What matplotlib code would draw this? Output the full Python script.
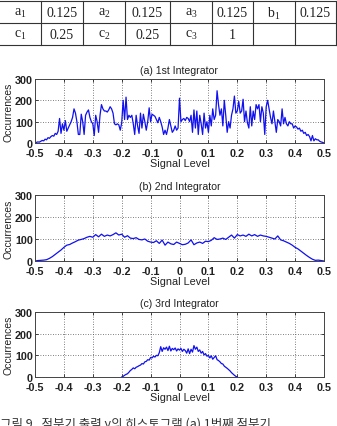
import numpy as np
import matplotlib
matplotlib.use("Agg")
import matplotlib.pyplot as plt

# ---------------- data ----------------
table_row1 = ["a_1", "0.125", "a_2", "0.125", "a_3", "0.125", "b_1", "0.125"]
table_row2 = ["c_1", "0.25", "c_2", "0.25", "c_3", "1", "", ""]

titles = ["(a) 1st Integrator", "(b) 2nd Integrator", "(c) 3rd Integrator"]
x_label = "Signal Level"
y_label = "Occurrences"
x_ticks = [-0.5, -0.4, -0.3, -0.2, -0.1, 0, 0.1, 0.2, 0.3, 0.4, 0.5]
x_tick_labels = ["-0.5", "-0.4", "-0.3", "-0.2", "-0.1", "0", "0.1", "0.2", "0.3", "0.4", "0.5"]
y_ticks = [0, 100, 200, 300]

# (a) 1st integrator, levels -0.5..0.5 step 0.005
a_range = (-0.5, 0.5)
a_counts = [0, 3, 5, 4, 8, 12, 10, 18, 15, 25, 22, 30, 35, 32, 45, 40, 55, 115, 45, 90,
            60, 105, 55, 70, 85, 100, 120, 160, 140, 100, 40, 40, 135, 100, 40, 130, 145, 155, 120, 100,
            90, 35, 130, 100, 50, 130, 180, 160, 150, 150, 145, 155, 170, 160, 140, 90, 85, 90, 85, 60,
            95, 200, 110, 215, 110, 130, 120, 130, 90, 40, 130, 80, 45, 140, 70, 135, 100, 60, 100, 165,
            100, 135, 130, 125, 110, 95, 120, 100, 75, 40, 60, 40, 70, 110, 80, 50, 60, 80, 60, 70,
            210, 100, 110, 115, 105, 120, 115, 100, 130, 50, 155, 70, 150, 40, 130, 90, 40, 140, 70, 100,
            50, 130, 80, 160, 110, 130, 245, 180, 130, 160, 80, 200, 130, 50, 100, 70, 130, 160, 220, 140,
            150, 195, 140, 150, 205, 100, 150, 95, 70, 170, 80, 150, 110, 180, 160, 180, 100, 170, 140, 40,
            170, 200, 160, 120, 90, 150, 100, 50, 110, 100, 80, 160, 90, 120, 90, 80, 100, 90, 90, 70,
            80, 75, 65, 70, 55, 60, 45, 50, 35, 40, 30, 10, 35, 10, 20, 15, 15, 8, 5, 3, 0]

# (b) 2nd integrator, levels -0.5..0.5 step 0.01
b_range = (-0.5, 0.5)
b_counts = [0, 2, 3, 4, 6, 12, 20, 30, 40, 50, 62, 72, 75, 82, 88, 95, 98, 102, 108, 112,
            108, 120, 110, 122, 112, 118, 114, 120, 128, 118, 122, 108, 115, 104, 102, 106, 98, 96, 100, 90,
            86, 84, 92, 80, 95, 72, 86, 78, 75, 86, 80, 74, 76, 82, 96, 74, 82, 86, 80, 90,
            88, 94, 106, 98, 100, 104, 98, 108, 118, 104, 120, 114, 118, 112, 122, 114, 120, 112, 118, 114,
            112, 108, 104, 100, 114, 96, 92, 86, 80, 72, 62, 55, 45, 35, 25, 16, 8, 3, 4, 2, 0]

# (c) 3rd integrator, levels -0.2..0.2 step 0.005
c_range = (-0.2, 0.2)
c_counts = [0, 3, 8, 12, 15, 22, 30, 35, 42, 38, 45, 48, 52, 55, 62, 60, 70, 72, 80, 78,
            90, 88, 96, 92, 100, 98, 112, 140, 118, 135, 128, 138, 122, 142, 120, 132, 126, 134, 120, 130,
            124, 132, 118, 128, 122, 110, 130, 108, 128, 115, 145, 128, 138, 118, 125, 110, 118, 102, 108, 96,
            100, 88, 98, 82, 90, 98, 80, 76, 70, 62, 60, 50, 45, 40, 34, 28, 20, 14, 8, 3, 0]

caption = "그림 9.  적분기 출력 y의 히스토그램 (a) 1번째 적분기"

# ---------------- figure ----------------
W, H = 337, 427
fig = plt.figure(figsize=(W / 100, H / 100), dpi=100)
plt.rcParams['mathtext.fontset'] = 'custom'
plt.rcParams['mathtext.rm'] = 'Liberation Serif'
plt.rcParams['mathtext.it'] = 'Liberation Serif'

# table
tax = fig.add_axes([0, 0, 1, 1])
tax.set_xlim(0, W)
tax.set_ylim(H, 0)
tax.axis('off')
col_edges = [0, 41, 83, 125, 170, 212, 253, 295, 336]
row_edges = [2, 24, 46]
for y in row_edges:
    tax.plot([0, W], [y, y], color='#333333', lw=0.8)
for x in col_edges[1:]:
    tax.plot([x, x], [row_edges[0], row_edges[-1]], color='#333333', lw=0.8)

def cell_text(s):
    if "_" in s:
        base, sub = s.split("_")
        return r"$\mathrm{%s}_{%s}$" % (base, sub)
    return s

for r, row in enumerate([table_row1, table_row2]):
    yc = (row_edges[r] + row_edges[r + 1]) / 2
    for c, s in enumerate(row):
        xc = (col_edges[c] + col_edges[c + 1]) / 2
        tax.text(xc, yc + 0.5, cell_text(s), ha='center', va='center',
                 family='Liberation Serif', fontsize=10, color='#222222')

tax.text(0, 418, caption, ha='left', va='top', fontsize=9,
         family=['Noto Sans CJK KR', 'DejaVu Sans'], color='#333333')

# plots
boxes = [(80, 144), (196, 262), (313, 378)]
left_px, right_px = 35, 324
series = [(a_range, a_counts), (b_range, b_counts), (c_range, c_counts)]
for (top, bot), title, (rng, cnt) in zip(boxes, titles, series):
    ax = fig.add_axes([left_px / W, 1 - bot / H, (right_px - left_px) / W, (bot - top) / H])
    xs = np.linspace(rng[0], rng[1], len(cnt))
    ax.plot(xs, cnt, color='#1010f0', lw=0.9)
    ax.set_xlim(-0.5, 0.5)
    ax.set_ylim(0, 300)
    ax.set_xticks(x_ticks)
    ax.set_xticklabels(x_tick_labels)
    ax.set_yticks(y_ticks)
    ax.grid(True, color='#555555', linestyle=(0, (1, 2)), lw=0.6)
    ax.tick_params(direction='in', length=2, width=0.6, labelsize=7.8, pad=1.5,
                   top=True, right=True, colors='#222222')
    ax.tick_params(axis='x', pad=3.5)
    for lab in ax.get_xticklabels() + ax.get_yticklabels():
        lab.set_family('Liberation Sans')
        lab.set_fontweight('bold')
    for sp in ax.spines.values():
        sp.set_linewidth(0.7)
        sp.set_color('#444444')
    ax.set_title(title, fontsize=7.6, family='Liberation Sans', pad=4, color='#222222')
    ax.set_xlabel(x_label, fontsize=7.8, family='Liberation Sans', labelpad=0, color='#222222')
    ax.set_ylabel(y_label, fontsize=7.5, family='Liberation Sans', labelpad=1, color='#222222')

fig.savefig("out.png", dpi=100)
